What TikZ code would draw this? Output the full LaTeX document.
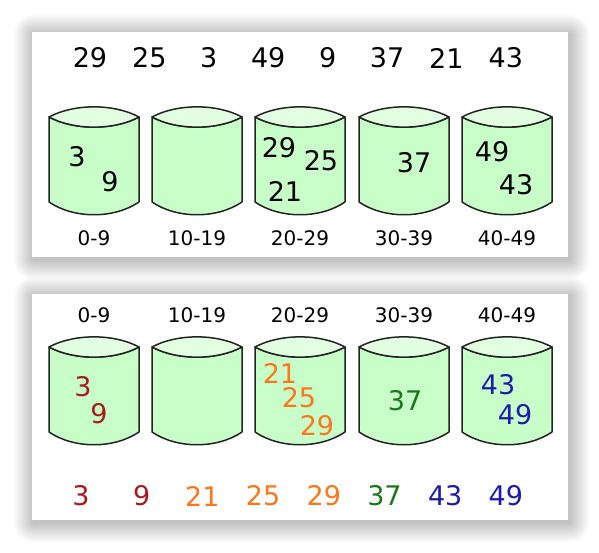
\documentclass[tikz,border=0pt]{standalone}
\usepackage{fontspec}
\setmainfont{DejaVu Sans}
\usetikzlibrary{positioning}

\definecolor{bucketfill}{RGB}{200,255,200}
\definecolor{bucketlid}{RGB}{226,255,226}
\definecolor{bucketline}{RGB}{35,35,35}
\definecolor{numred}{RGB}{165,28,28}
\definecolor{numorange}{RGB}{255,118,28}
\definecolor{numgreen}{RGB}{28,118,28}
\definecolor{numblue}{RGB}{28,28,168}

\tikzset{
  panel/.style={fill=white, inner sep=0pt, anchor=north west},
  glow/.style={fill=black, opacity=0.011},
  num/.style={font=\fontsize{27}{30}\selectfont, inner sep=0pt},
  rangelbl/.style={font=\fontsize{20}{22}\selectfont, inner sep=0pt},
  bucket/.pic={
    \path[fill=bucketfill, draw=bucketline, line width=1.5pt, line join=round]
      (-45,0) -- (-45,85) .. controls (-20,102) and (20,102) .. (45,85) -- (45,0)
      .. controls (20,13.5) and (-20,13.5) .. cycle;
    \path[fill=bucketlid, draw=bucketline, line width=1.5pt, line join=round]
      (-45,0) .. controls (-20,-13.5) and (20,-13.5) .. (45,0)
      .. controls (20,13.5) and (-20,13.5) .. cycle;
  }
}

\begin{document}
\begin{tikzpicture}[x=1pt, y=-1pt]
    \useasboundingbox (0,0) rectangle (599,553);
    \fill[white] (0,0) rectangle (599,553);

    % soft shadows behind both panels
    \foreach \s in {1,...,20} {
      \fill[glow, rounded corners=\s pt] (33.5-\s, 34.5-\s) rectangle (569.5+\s, 259.5+\s);
      \fill[glow, rounded corners=\s pt] (33.5-\s, 296.5-\s) rectangle (569.5+\s, 522.5+\s);
    }

    % top panel: unsorted input and scatter into buckets
    \node[panel, minimum width=536pt, minimum height=225pt] (toppanel) at (32,32) {};
    \begin{scope}[node distance=59.4pt]
    \node[num] (u1) at (90,58) {29};
    \node[num, right of=u1] (u2) {25};
    \node[num, right of=u2] (u3) {3};
    \node[num, right of=u3] (u4) {49};
    \node[num, right of=u4] (u5) {9};
    \node[num, right of=u5] (u6) {37};
    \node[num, right of=u6] (u7) {21};
    \node[num, right of=u7] (u8) {43};
    \end{scope}

    \pic (ta) at (94,117) {bucket};
    \pic (tb) at (197,117) {bucket};
    \pic (tc) at (300,117) {bucket};
    \pic (td) at (404,117) {bucket};
    \pic (te) at (507,117) {bucket};

    \node[num] (ta3) at (77,157) {3};
    \node[num] (ta9) at (110,182) {9};
    \node[num] (tc29) at (279,148) {29};
    \node[num] (tc25) at (321,161) {25};
    \node[num] (tc21) at (285,191) {21};
    \node[num] (td37) at (414,163) {37};
    \node[num] (te49) at (492,152) {49};
    \node[num] (te43) at (516,185) {43};

    \node[rangelbl] (tra) at (94,238) {0-9};
    \node[rangelbl] (trb) at (197,238) {10-19};
    \node[rangelbl] (trc) at (300,238) {20-29};
    \node[rangelbl] (trd) at (404,238) {30-39};
    \node[rangelbl] (tre) at (507,238) {40-49};

    % bottom panel: sorted buckets and gathered output
    \node[panel, minimum width=536pt, minimum height=226pt] (botpanel) at (32,294) {};
    \node[rangelbl] (bra) at (94,315) {0-9};
    \node[rangelbl] (brb) at (197,315) {10-19};
    \node[rangelbl] (brc) at (300,315) {20-29};
    \node[rangelbl] (brd) at (404,315) {30-39};
    \node[rangelbl] (bre) at (507,315) {40-49};

    \pic (ba) at (94,347) {bucket};
    \pic (bb) at (197,347) {bucket};
    \pic (bc) at (300,347) {bucket};
    \pic (bd) at (404,347) {bucket};
    \pic (be) at (507,347) {bucket};

    \node[num, numred] (ba3) at (83,387) {3};
    \node[num, numred] (ba9) at (99,414) {9};
    \node[num, numorange] (bc21) at (280,373) {21};
    \node[num, numorange] (bc25) at (299,398) {25};
    \node[num, numorange] (bc29) at (317,426) {29};
    \node[num, numgreen] (bd37) at (405,401) {37};
    \node[num, numblue] (be43) at (498,385) {43};
    \node[num, numblue] (be49) at (515,415) {49};

    \begin{scope}[node distance=60.7pt]
    \node[num, numred] (s1) at (81,496) {3};
    \node[num, numred, right of=s1] (s2) {9};
    \node[num, numorange, right of=s2] (s3) {21};
    \node[num, numorange, right of=s3] (s4) {25};
    \node[num, numorange, right of=s4] (s5) {29};
    \node[num, numgreen, right of=s5] (s6) {37};
    \node[num, numblue, right of=s6] (s7) {43};
    \node[num, numblue, right of=s7] (s8) {49};
    \end{scope}
\end{tikzpicture}
\end{document}
